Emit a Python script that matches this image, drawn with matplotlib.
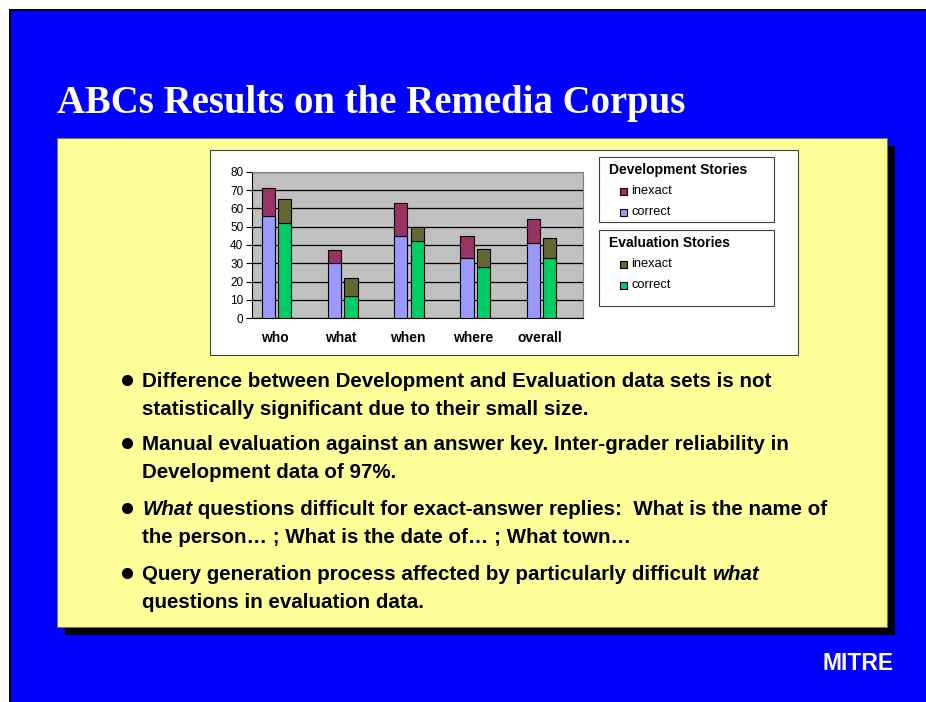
import matplotlib
matplotlib.use("Agg")
import matplotlib.pyplot as plt
from matplotlib.patches import Rectangle
import numpy as np

# chart data (percent of questions answered)
categories = ["who", "what", "when", "where", "overall"]
dev_correct = [56, 30, 45, 33, 41]
dev_inexact = [15, 7, 18, 12, 13]
eval_correct = [52, 12, 42, 28, 33]
eval_inexact = [13, 10, 8, 10, 11]
yticks = [0, 10, 20, 30, 40, 50, 60, 70, 80]

dev_colors = {"inexact": "#993366", "correct": "#9999FF"}
eval_colors = {"inexact": "#666633", "correct": "#00CC66"}

bullets = [
    [[("Difference between Development and Evaluation data sets is not", "normal")],
     [("statistically significant due to their small size.", "normal")]],
    [[("Manual evaluation against an answer key. Inter-grader reliability in", "normal")],
     [("Development data of 97%.", "normal")]],
    [[("What", "italic"), (" questions difficult for exact-answer replies:  What is the name of", "normal")],
     [("the person\u2026 ; What is the date of\u2026 ; What town\u2026", "normal")]],
    [[("Query generation process affected by particularly difficult ", "normal"), ("what", "italic")],
     [("questions in evaluation data.", "normal")]],
]
baselines = [[387, 415], [450, 478], [515, 543], [580, 608]]

W, H = 926, 702
fig = plt.figure(figsize=(W / 100, H / 100), dpi=100, facecolor="white")

# background drawn in pixel coordinates
bg = fig.add_axes([0, 0, 1, 1])
bg.set_xlim(0, W)
bg.set_ylim(H, 0)
bg.axis("off")

bg.add_patch(Rectangle((9, 9), W, H, facecolor="black", edgecolor="none"))
bg.add_patch(Rectangle((11, 11), W, H, facecolor="#0000FF", edgecolor="none"))

# yellow content panel with shadow
bg.add_patch(Rectangle((65, 146), 830, 489, facecolor="black", edgecolor="none"))
bg.add_patch(Rectangle((57, 138), 830, 489, facecolor="#FFFF99", edgecolor="#7A7A3A", lw=0.8))

# white chart area
bg.add_patch(Rectangle((210, 150), 588, 205, facecolor="white", edgecolor="#404040", lw=0.8))

bg.text(57, 113, "ABCs Results on the Remedia Corpus", color="white",
        fontsize=27.9, fontweight="bold", family="Liberation Serif", va="baseline")

bg.text(858, 664, "MITRE", color="white", fontsize=16.5, fontweight="bold",
        family="Liberation Sans", ha="center", va="center")

# bullets
sans = "Liberation Sans"
for item, ys in zip(bullets, baselines):
    bg.plot(127, ys[0] - 7, "o", color="black", markersize=7)
    for line, yb in zip(item, ys):
        prev = None
        for txt, sty in line:
            if prev is None:
                prev = bg.text(142, yb, txt, fontsize=14.8, fontweight="bold",
                               family=sans, style=sty, va="baseline")
            else:
                prev = bg.annotate(txt, xy=(1, 0), xycoords=prev, fontsize=14.8,
                                   fontweight="bold", family=sans, style=sty,
                                   va="bottom", ha="left")

# legend boxes (manual, to match the original layout)
def legend_box(y0, y1, title, colors):
    bg.add_patch(Rectangle((599, y0), 175, y1 - y0, facecolor="white",
                           edgecolor="#404040", lw=0.8))
    bg.text(609, y0 + 13, title, fontsize=10, fontweight="bold", family=sans, va="center")
    for k, key in enumerate(["inexact", "correct"]):
        yy = y0 + 34 + k * 21
        bg.add_patch(Rectangle((620, yy - 3.5), 7, 7, facecolor=colors[key],
                               edgecolor="black", lw=0.8))
        bg.text(631, yy, key, fontsize=9.3, family=sans, va="center")

legend_box(157, 222, "Development Stories", dev_colors)
legend_box(230, 306, "Evaluation Stories", eval_colors)

# bar chart
left, right, top, bottom = 251.7, 583, 171.7, 318.3
ax = fig.add_axes([left / W, 1 - bottom / H, (right - left) / W, (bottom - top) / H])
ax.set_facecolor("#C0C0C0")
x = np.arange(len(categories)) + 0.5
bw = 0.2
ax.bar(x - 0.25, dev_correct, bw, color=dev_colors["correct"], edgecolor="black", lw=0.8, zorder=3)
ax.bar(x - 0.25, dev_inexact, bw, bottom=dev_correct, color=dev_colors["inexact"],
       edgecolor="black", lw=0.8, zorder=3)
ax.bar(x, eval_correct, bw, color=eval_colors["correct"], edgecolor="black", lw=0.8, zorder=3)
ax.bar(x, eval_inexact, bw, bottom=eval_correct, color=eval_colors["inexact"],
       edgecolor="black", lw=0.8, zorder=3)

ax.set_xlim(0, len(categories))
ax.set_ylim(0, 80)
ax.set_yticks(yticks)
ax.yaxis.grid(True, color="black", lw=0.9, zorder=0)
ax.set_axisbelow(True)
ax.tick_params(axis="y", labelsize=8.5, length=4, width=0.8, pad=2)
ax.set_xticks(x - 0.15)
ax.set_xticklabels(categories, fontsize=10, fontweight="bold", family=sans)
ax.tick_params(axis="x", length=0, pad=9)
for lab in ax.get_yticklabels():
    lab.set_family(sans)
for side in ["top", "right"]:
    ax.spines[side].set_color("#808080")
ax.spines["left"].set_color("black")
ax.spines["bottom"].set_color("black")

fig.savefig("out.png", dpi=100, facecolor="white")
